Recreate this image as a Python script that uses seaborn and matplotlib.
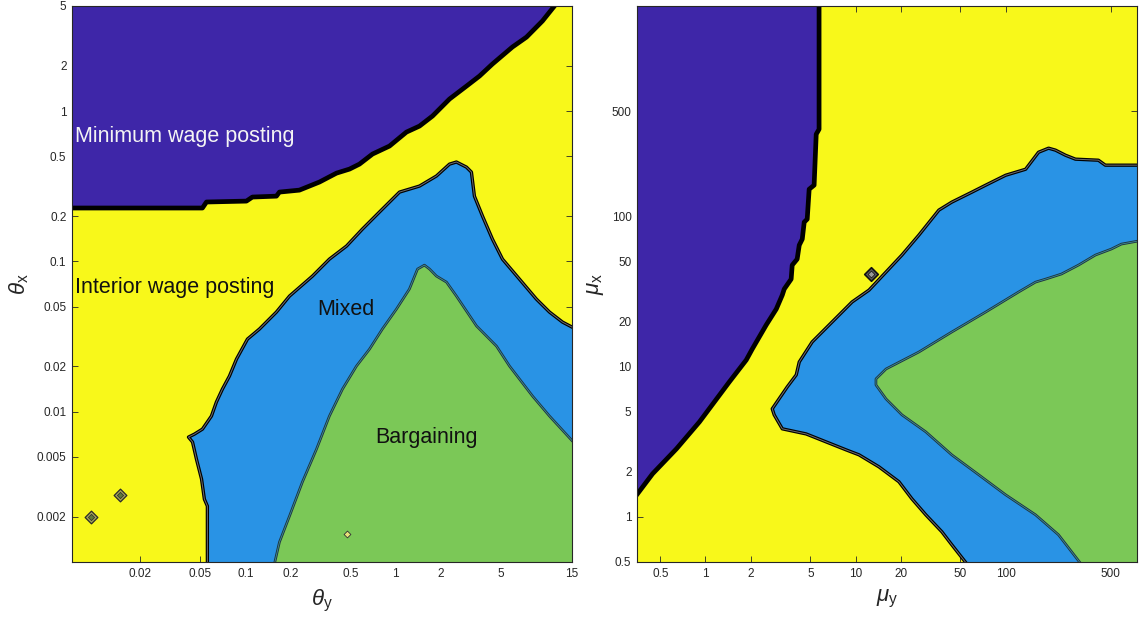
import numpy as np
import matplotlib
matplotlib.use("Agg")
import matplotlib.pyplot as plt
import seaborn as sns

# ---------------------------------------------------------------
# Regime map data (boundaries given as log10 coordinates)
# ---------------------------------------------------------------
# Left panel: theta_y on x, theta_x on y
theta_xlim = (0.007, 15)
theta_ylim = (0.001, 5)
theta_xticks = [0.02, 0.05, 0.1, 0.2, 0.5, 1, 2, 5, 15]
theta_xticklabels = ["0.02", "0.05", "0.1", "0.2", "0.5", "1", "2", "5", "15"]
theta_yticks = [0.002, 0.005, 0.01, 0.02, 0.05, 0.1, 0.2, 0.5, 1, 2, 5]
theta_yticklabels = ["0.002", "0.005", "0.01", "0.02", "0.05", "0.1", "0.2", "0.5", "1", "2", "5"]

# minimum wage posting / interior wage posting frontier
th_min_lx = [-2.20, -1.286, -1.259, -0.993, -0.953, -0.793, -0.773, -0.640, -0.506,
             -0.393, -0.306, -0.240, -0.153, -0.040, 0.073, 0.160, 0.247, 0.360,
             0.473, 0.560, 0.646, 0.779, 0.873, 0.979, 1.100]
th_min_ly = [-0.645, -0.645, -0.605, -0.599, -0.572, -0.566, -0.539, -0.526, -0.472,
             -0.413, -0.386, -0.353, -0.286, -0.233, -0.140, -0.100, -0.033, 0.080,
             0.166, 0.233, 0.313, 0.426, 0.492, 0.599, 0.750]

# interior wage posting / mixed frontier
th_mix_lx = [-1.253, -1.253, -1.273, -1.292, -1.326, -1.352, -1.379, -1.339, -1.286,
             -1.226, -1.193, -1.153, -1.106, -1.059, -0.986, -0.906, -0.793, -0.706,
             -0.553, -0.440, -0.326, -0.220, -0.107, 0.027, 0.160, 0.273, 0.360,
             0.406, 0.473, 0.506, 0.526, 0.580, 0.646, 0.713, 0.826, 0.939, 1.026,
             1.113, 1.220]
th_mix_ly = [-3.050, -2.628, -2.582, -2.448, -2.315, -2.202, -2.169, -2.149, -2.116,
             -2.029, -1.936, -1.850, -1.763, -1.650, -1.517, -1.450, -1.337, -1.231,
             -1.098, -0.985, -0.898, -0.785, -0.672, -0.539, -0.499, -0.432, -0.353,
             -0.339, -0.373, -0.406, -0.566, -0.699, -0.852, -0.985, -1.118, -1.251,
             -1.337, -1.404, -1.460]

# mixed / bargaining frontier
th_bar_lx = [-0.815, -0.773, -0.706, -0.620, -0.526, -0.440, -0.353, -0.260, -0.173,
             -0.087, 0.007, 0.093, 0.147, 0.193, 0.227, 0.273, 0.340, 0.406, 0.540,
             0.673, 0.760, 0.913, 1.026, 1.220]
th_bar_ly = [-3.050, -2.868, -2.695, -2.468, -2.249, -2.029, -1.850, -1.697, -1.584,
             -1.450, -1.317, -1.184, -1.051, -1.025, -1.051, -1.098, -1.138, -1.231,
             -1.430, -1.564, -1.697, -1.896, -2.029, -2.240]

# isolated grid cells
th_spot_x = [0.00944, 0.0147]
th_spot_y = [0.00199, 0.00279]
th_small_x = [0.472]
th_small_y = [0.00153]

# Right panel: mu_y on x, mu_x on y
mu_xlim = (0.35, 750)
mu_ylim = (0.5, 2500)
mu_ticks = [0.5, 1, 2, 5, 10, 20, 50, 100, 500]
mu_ticklabels = ["0.5", "1", "2", "5", "10", "20", "50", "100", "500"]

mu_min_lx = [0.757, 0.757, 0.738, 0.724, 0.691, 0.678, 0.658, 0.645, 0.625, 0.611,
             0.578, 0.571, 0.525, 0.512, 0.472, 0.405, 0.312, 0.272, 0.159, -0.040,
             -0.193, -0.352, -0.500]
mu_min_ly = [3.450, 2.578, 2.545, 2.206, 2.179, 1.980, 1.960, 1.847, 1.807, 1.714,
             1.674, 1.581, 1.515, 1.475, 1.382, 1.276, 1.116, 1.043, 0.897, 0.631,
             0.452, 0.286, 0.090]

mu_mix_lx = [1.770, 1.641, 1.575, 1.468, 1.375, 1.289, 1.156, 1.023, 0.937, 0.804,
             0.671, 0.512, 0.458, 0.445, 0.545, 0.605, 0.625, 0.711, 0.844, 0.977,
             1.090, 1.203, 1.309, 1.422, 1.555, 1.641, 1.774, 1.867, 2.000, 2.133,
             2.219, 2.286, 2.332, 2.399, 2.465, 2.618, 2.664, 2.920]
mu_mix_ly = [-0.350, -0.186, -0.100, 0.013, 0.120, 0.233, 0.332, 0.412, 0.445, 0.498,
             0.551, 0.585, 0.678, 0.718, 0.864, 0.944, 1.030, 1.163, 1.296, 1.429,
             1.508, 1.628, 1.741, 1.874, 2.040, 2.093, 2.159, 2.206, 2.272, 2.312,
             2.425, 2.452, 2.439, 2.405, 2.379, 2.372, 2.339, 2.339]

mu_bar_lx = [2.530, 2.352, 2.199, 2.000, 1.821, 1.641, 1.468, 1.309, 1.203, 1.136,
             1.136, 1.203, 1.422, 1.641, 1.867, 2.086, 2.199, 2.266, 2.372, 2.485,
             2.598, 2.704, 2.771, 2.920]
mu_bar_ly = [-0.350, -0.120, 0.013, 0.146, 0.279, 0.412, 0.565, 0.678, 0.784, 0.877,
             0.917, 0.983, 1.096, 1.229, 1.362, 1.495, 1.561, 1.581, 1.615, 1.674,
             1.741, 1.781, 1.814, 1.841]

mu_spot_x = [12.7]
mu_spot_y = [41.2]

region_labels = ["Minimum wage posting", "Interior wage posting", "Mixed", "Bargaining"]

# ---------------------------------------------------------------
# Style
# ---------------------------------------------------------------
sns.set_theme(style="ticks")
plt.rcParams["font.family"] = ["Liberation Sans", "DejaVu Sans"]
plt.rcParams["mathtext.fontset"] = "custom"
plt.rcParams["mathtext.rm"] = "Liberation Sans"
plt.rcParams["mathtext.it"] = "Liberation Sans:italic"

C_MIN = "#3E26A8"
C_MIX = "#2993E5"
C_BAR = "#7BC857"
C_INT = "#F8F81A"
AX_COL = "#262626"


def pts(lx, ly):
    return list(zip(10 ** np.asarray(lx), 10 ** np.asarray(ly)))


def style_axes(ax, xlim, ylim, xt, xtl, yt, ytl):
    ax.set_xscale("log")
    ax.set_yscale("log")
    ax.set_xlim(*xlim)
    ax.set_ylim(*ylim)
    ax.set_facecolor(C_INT)
    ax.set_xticks(xt)
    ax.set_xticklabels(xtl)
    ax.set_yticks(yt)
    ax.set_yticklabels(ytl)
    ax.minorticks_off()
    ax.tick_params(which="major", direction="in", length=4, width=0.6,
                   top=True, right=True, color=AX_COL, labelcolor=AX_COL,
                   labelsize=8.5, pad=4)
    for s in ax.spines.values():
        s.set_color(AX_COL)
        s.set_linewidth(0.8)
        s.set_zorder(10)


def boundary(ax, lx, ly, kind):
    x = 10 ** np.asarray(lx)
    y = 10 ** np.asarray(ly)
    if kind == "min":
        sns.lineplot(x=x, y=y, sort=False, estimator=None, color="black", lw=3.4,
                     ax=ax, zorder=5)
    elif kind == "mix":
        sns.lineplot(x=x, y=y, sort=False, estimator=None, color="black", lw=2.4,
                     ax=ax, zorder=5)
        sns.lineplot(x=x, y=y, sort=False, estimator=None, color="#6f6f6f", lw=0.7,
                     ax=ax, zorder=6)
    else:
        sns.lineplot(x=x, y=y, sort=False, estimator=None, color="#1d3340", lw=1.9,
                     ax=ax, zorder=5)
        sns.lineplot(x=x, y=y, sort=False, estimator=None, color="#3f8f95", lw=0.6,
                     ax=ax, zorder=6)


fig = plt.figure(figsize=(11.39, 6.18), dpi=100)
axL = fig.add_axes([72 / 1139, 56 / 618, 500 / 1139, 556 / 618])
axR = fig.add_axes([637 / 1139, 56 / 618, 500 / 1139, 556 / 618])

# ---------------- left panel ----------------
style_axes(axL, theta_xlim, theta_ylim, theta_xticks, theta_xticklabels,
           theta_yticks, theta_yticklabels)

poly_min = pts(th_min_lx, th_min_ly) + pts([th_min_lx[-1], -2.3], [1.0, 1.0]) \
    + pts([-2.3], [th_min_ly[0]])
axL.add_patch(plt.Polygon(poly_min, closed=True, fc=C_MIN, ec="none", zorder=1))

poly_mix = pts(th_mix_lx, th_mix_ly) + pts([1.25, 1.25], [th_mix_ly[-1], th_bar_ly[-1]]) \
    + pts(th_bar_lx[::-1], th_bar_ly[::-1])
axL.add_patch(plt.Polygon(poly_mix, closed=True, fc=C_MIX, ec="none", zorder=1))

poly_bar = pts(th_bar_lx, th_bar_ly) + pts([1.25, 1.25], [th_bar_ly[-1], -3.1]) \
    + pts([th_bar_lx[0]], [-3.1])
axL.add_patch(plt.Polygon(poly_bar, closed=True, fc=C_BAR, ec="none", zorder=1))

boundary(axL, th_min_lx, th_min_ly, "min")
boundary(axL, th_mix_lx, th_mix_ly, "mix")
boundary(axL, th_bar_lx, th_bar_ly, "bar")

sns.scatterplot(x=th_spot_x, y=th_spot_y, marker="D", s=42, color="#a3a35a",
                edgecolor="#2a2a2a", linewidth=0.9, ax=axL, zorder=7)
sns.scatterplot(x=th_spot_x, y=th_spot_y, marker="D", s=10, color="#5f7a3a",
                edgecolor="#2a2a2a", linewidth=0.5, ax=axL, zorder=8)
sns.scatterplot(x=th_small_x, y=th_small_y, marker="D", s=12, color="#e9e27a",
                edgecolor="#333333", linewidth=0.6, ax=axL, zorder=7)

axL.text(0.00738, 0.682, region_labels[0], color="#f4f4f4", fontsize=15.5,
         ha="left", va="center", zorder=9)
axL.text(0.00738, 0.0675, region_labels[1], color="#111111", fontsize=15.5,
         ha="left", va="center", zorder=9)
axL.text(0.464, 0.0482, region_labels[2], color="#111111", fontsize=15.5,
         ha="center", va="center", zorder=9)
axL.text(1.61, 0.00678, region_labels[3], color="#111111", fontsize=15.5,
         ha="center", va="center", zorder=9)

axL.set_xlabel(r"$\theta_{\mathrm{y}}$", fontsize=16, color=AX_COL, labelpad=6)
axL.set_ylabel(r"$\theta_{\mathrm{x}}$", fontsize=16, color=AX_COL, labelpad=4)

# ---------------- right panel ----------------
style_axes(axR, mu_xlim, mu_ylim, mu_ticks, mu_ticklabels, mu_ticks, mu_ticklabels)

poly_min_r = pts(mu_min_lx, mu_min_ly) + pts([-0.6, -0.6], [mu_min_ly[-1], 3.45])
axR.add_patch(plt.Polygon(poly_min_r, closed=True, fc=C_MIN, ec="none", zorder=1))

poly_mix_r = pts(mu_mix_lx, mu_mix_ly) + pts([2.95, 2.95], [mu_mix_ly[-1], mu_bar_ly[-1]]) \
    + pts(mu_bar_lx[::-1], mu_bar_ly[::-1])
axR.add_patch(plt.Polygon(poly_mix_r, closed=True, fc=C_MIX, ec="none", zorder=1))

poly_bar_r = pts(mu_bar_lx, mu_bar_ly) + pts([2.95, 2.95], [mu_bar_ly[-1], -0.4]) \
    + pts([mu_bar_lx[0]], [-0.4])
axR.add_patch(plt.Polygon(poly_bar_r, closed=True, fc=C_BAR, ec="none", zorder=1))

boundary(axR, mu_min_lx, mu_min_ly, "min")
boundary(axR, mu_mix_lx, mu_mix_ly, "mix")
boundary(axR, mu_bar_lx, mu_bar_ly, "bar")

sns.scatterplot(x=mu_spot_x, y=mu_spot_y, marker="D", s=48, color="#5a5a5a",
                edgecolor="#111111", linewidth=1.2, ax=axR, zorder=7)
sns.scatterplot(x=mu_spot_x, y=mu_spot_y, marker="D", s=12, color="#9a9a9a",
                edgecolor="#111111", linewidth=0.5, ax=axR, zorder=8)

axR.set_xlabel(r"$\mu_{\mathrm{y}}$", fontsize=16, color=AX_COL, labelpad=6)
axR.set_ylabel(r"$\mu_{\mathrm{x}}$", fontsize=16, color=AX_COL, labelpad=4)

fig.savefig("out.png", dpi=100)
